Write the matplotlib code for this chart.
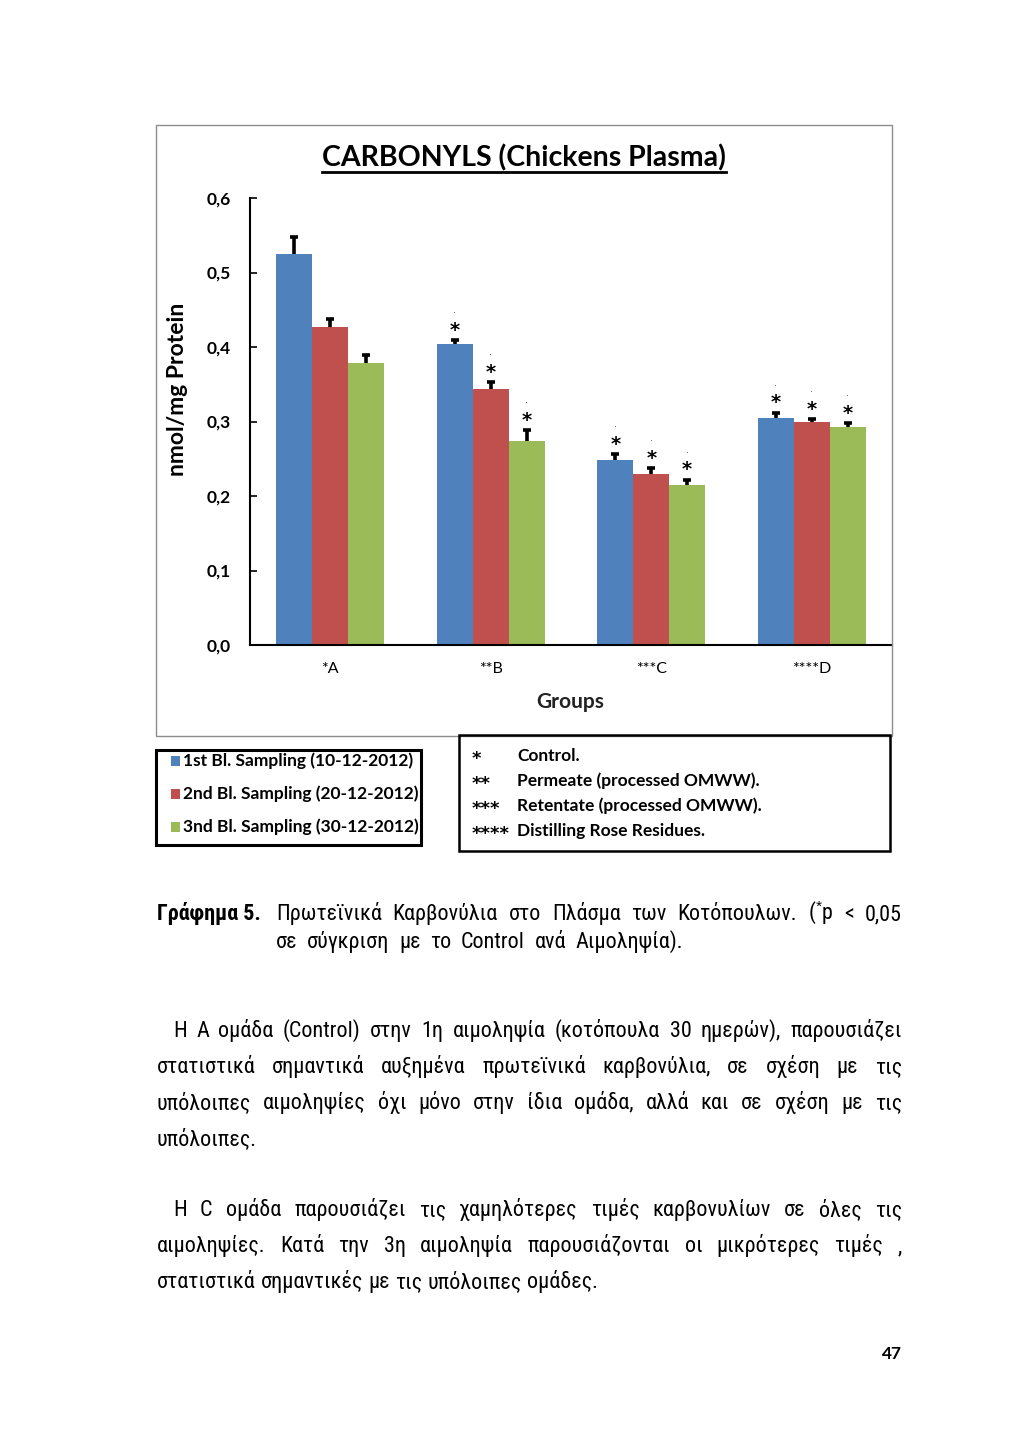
import matplotlib
matplotlib.use("Agg")
import matplotlib.pyplot as plt
from matplotlib.patches import Rectangle
from matplotlib.lines import Line2D
import numpy as np

# ---------------- data ----------------
groups = ['*A', '**B', '***C', '****D']
series_labels = ['1st Bl. Sampling (10-12-2012)',
                 '2nd Bl. Sampling (20-12-2012)',
                 '3nd Bl. Sampling (30-12-2012)']
sampling1 = [0.525, 0.404, 0.248, 0.305]
sampling2 = [0.427, 0.343, 0.229, 0.299]
sampling3 = [0.378, 0.274, 0.215, 0.292]
err1 = [0.023, 0.005, 0.008, 0.007]
err2 = [0.011, 0.010, 0.009, 0.004]
err3 = [0.011, 0.015, 0.007, 0.006]
signif1 = [False, True, True, True]
signif2 = [False, True, True, True]
signif3 = [False, True, True, True]
yticks = [0.0, 0.1, 0.2, 0.3, 0.4, 0.5, 0.6]
ytick_labels = ['0,0', '0,1', '0,2', '0,3', '0,4', '0,5', '0,6']
key_marks = ['*', '**', '***', '****']
key_texts = ['Control.', 'Permeate (processed OMWW).',
             'Retentate (processed OMWW).', 'Distilling Rose Residues.']
colors = ['#4F81BD', '#C0504D', '#9BBB59']

caption_bold = 'Γράφημα 5.'
caption_l1 = 'Πρωτεϊνικά Καρβονύλια στο Πλάσμα των Κοτόπουλων. ($^{*}$p < 0,05'
caption_l2 = 'σε σύγκριση με το  Control  ανά  Αιμοληψία).'
para1 = ['Η Α ομάδα (Control) στην 1η αιμοληψία (κοτόπουλα 30 ημερών), παρουσιάζει',
         'στατιστικά σημαντικά αυξημένα πρωτεϊνικά καρβονύλια, σε σχέση με τις',
         'υπόλοιπες αιμοληψίες όχι μόνο στην ίδια ομάδα, αλλά και σε σχέση με τις',
         'υπόλοιπες.']
para2 = ['Η C ομάδα παρουσιάζει τις χαμηλότερες τιμές καρβονυλίων σε όλες τις',
         'αιμοληψίες. Κατά την 3η αιμοληψία παρουσιάζονται οι μικρότερες τιμές ,',
         'στατιστικά σημαντικές με τις υπόλοιπες ομάδες.']
page_no = '47'

# ---------------- figure ----------------
W, H = 1024, 1447
fig = plt.figure(figsize=(W / 100, H / 100), dpi=100)
fig.patch.set_facecolor('white')
CH = ['Lato', 'DejaVu Sans']
STAR = ['DejaVu Sans']
BODY = ['Liberation Sans Narrow', 'Arial Narrow', 'Roboto Condensed',
        'Liberation Sans', 'DejaVu Sans']
plt.rcParams['mathtext.fontset'] = 'custom'
plt.rcParams['mathtext.rm'] = 'Liberation Sans'
plt.rcParams['mathtext.it'] = 'Liberation Sans'


def px(x, y):
    return (x / W, 1 - y / H)


renderer = fig.canvas.get_renderer()

# chart outer frame
fig.add_artist(Rectangle(px(156, 736), 736 / W, 611 / H, transform=fig.transFigure,
                         fill=False, edgecolor='#8c8c8c', linewidth=1.0))

ax = fig.add_axes([250 / W, 1 - 645 / H, 642 / W, 447 / H])
x = np.arange(len(groups))
bw = 0.224
cap = 0.024
series = [sampling1, sampling2, sampling3]
errs = [err1, err2, err3]
sigs = [signif1, signif2, signif3]
for i, (vals, e, sg) in enumerate(zip(series, errs, sigs)):
    xs = x + (i - 1) * bw
    vals = np.asarray(vals)
    e = np.asarray(e)
    ax.bar(xs, vals, width=bw, color=colors[i], edgecolor='none', zorder=2)
    ax.vlines(xs, vals, vals + e, colors='black', linewidth=2.6, zorder=3)
    ax.hlines(vals + e, xs - cap, xs + cap, colors='black', linewidth=2.6, zorder=3)
    for xx, v, ee, s in zip(xs, vals, e, sg):
        if s:
            ax.text(xx, v + ee + 0.013, '*', ha='center', va='center', fontsize=14,
                    fontweight='bold', family=STAR, zorder=4)
            ax.text(xx, v + ee + 0.040, '.', ha='center', va='center', fontsize=7,
                    family=STAR, color='#555555', zorder=4)

ax.set_xlim(-0.5, len(groups) - 0.5)
ax.set_ylim(0, 0.6)
ax.set_yticks(yticks)
ax.set_yticklabels(ytick_labels, fontsize=12.5, fontweight='bold', family=CH)
ax.set_xticks(x)
ax.set_xticklabels(groups, fontsize=11.5, family=CH)
ax.tick_params(axis='x', length=0, pad=12)
ax.tick_params(axis='y', length=5, width=1.2, direction='in', pad=14)
for sp in ['top', 'right']:
    ax.spines[sp].set_visible(False)
for sp in ['left', 'bottom']:
    ax.spines[sp].set_linewidth(1.5)
ax.set_facecolor('white')

# axis labels / title
fig.text(*px(177, 389), 'nmol/mg Protein', rotation=90, ha='center', va='center',
         fontsize=16.5, fontweight='bold', family=CH)
fig.text(*px(570, 702), 'Groups', ha='center', va='center', fontsize=15,
         fontweight='bold', family=CH, color='#222222')
title = fig.text(*px(524, 158), 'CARBONYLS (Chickens Plasma)', ha='center', va='center',
                 fontsize=20.5, fontweight='bold', family=CH)
bb = title.get_window_extent(renderer)
fig.add_artist(Line2D([bb.x0 / W, bb.x1 / W], [1 - 172 / H, 1 - 172 / H],
                      transform=fig.transFigure, color='black', linewidth=2))

# legend 1 (series)
fig.add_artist(Rectangle(px(156, 845), 265 / W, 95 / H, transform=fig.transFigure,
                         fill=False, edgecolor='black', linewidth=2.2))
for i, lab in enumerate(series_labels):
    yy = 761 + 33 * i
    fig.add_artist(Rectangle(px(171, yy + 5), 9 / W, 10 / H, transform=fig.transFigure,
                             facecolor=colors[i], edgecolor='none'))
    fig.text(*px(183, yy), lab, ha='left', va='center', fontsize=12.5,
             fontweight='bold', family=CH)

# legend 2 (group key)
fig.add_artist(Rectangle(px(459, 851), 431 / W, 116 / H, transform=fig.transFigure,
                         fill=False, edgecolor='black', linewidth=1.8))
for i, (m, t) in enumerate(zip(key_marks, key_texts)):
    yy = 756 + 25 * i
    fig.text(*px(472, yy + 3), m, ha='left', va='center', fontsize=13,
             fontweight='bold', family=STAR)
    fig.text(*px(517, yy), t, ha='left', va='center', fontsize=12.5,
             fontweight='bold', family=CH)

# ---------------- body text ----------------
body_size = 14.5
probe = fig.text(0, 0, para2[-1], fontsize=body_size, family=BODY)
wprobe = probe.get_window_extent(renderer).width
probe.remove()
body_size = body_size * 440 / wprobe


def place_line(line, x0, x1, yb, justify=True, **kw):
    words = line.split()
    texts = [fig.text(0, 0, w, va='baseline', ha='left', **kw) for w in words]
    widths = [t.get_window_extent(renderer).width for t in texts]
    if justify and len(words) > 1:
        gap = (x1 - x0 - sum(widths)) / (len(words) - 1)
    else:
        sp = fig.text(0, 0, 'a a', **kw)
        sp2 = fig.text(0, 0, 'aa', **kw)
        gap = sp.get_window_extent(renderer).width - sp2.get_window_extent(renderer).width
        sp.remove()
        sp2.remove()
    xx = x0
    for t, w in zip(texts, widths):
        t.set_position(px(xx, yb))
        xx += w + gap


# caption
fig.text(*px(157, 920), caption_bold, ha='left', va='baseline', fontsize=body_size,
         fontweight='bold', family=BODY)
place_line(caption_l1, 276, 902, 920, justify=True, fontsize=body_size, family=BODY)
place_line(caption_l2, 276, 683, 948, justify=True, fontsize=body_size, family=BODY)

for i, line in enumerate(para1):
    x0 = 173 if i == 0 else 157
    place_line(line, x0, 902, 1037 + 36 * i, justify=(i < len(para1) - 1),
               fontsize=body_size, family=BODY)
for i, line in enumerate(para2):
    x0 = 173 if i == 0 else 157
    place_line(line, x0, 902, 1216 + 36 * i, justify=(i < len(para2) - 1),
               fontsize=body_size, family=BODY)

fig.text(*px(902, 1359), page_no, ha='right', va='baseline', fontsize=12.5,
         fontweight='bold', family=CH)

fig.savefig('out.png', dpi=100, facecolor='white')
